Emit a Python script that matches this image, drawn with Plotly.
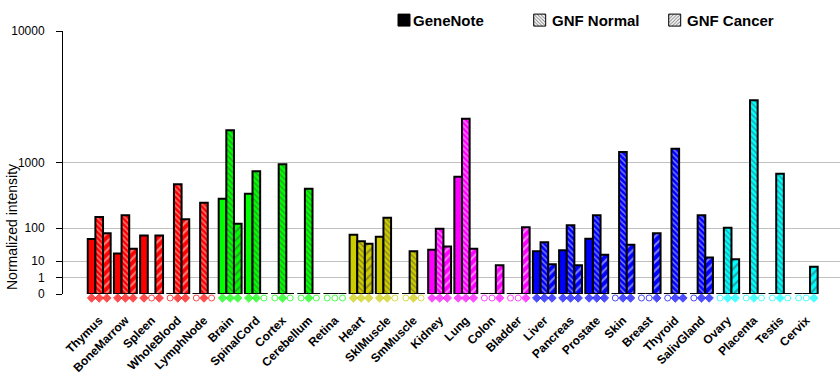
import numpy as np
import plotly.graph_objects as go

tissues = ["Thymus", "BoneMarrow", "Spleen", "WholeBlood", "LymphNode", "Brain", "SpinalCord",
           "Cortex", "Cerebellum", "Retina", "Heart", "SklMuscle", "SmMuscle", "Kidney", "Lung",
           "Colon", "Bladder", "Liver", "Pancreas", "Prostate", "Skin", "Breast", "Thyroid",
           "SalivGland", "Ovary", "Placenta", "Testis", "Cervix"]
tissue_colors = (["#FF0000"] * 5 + ["#00FF00"] * 5 + ["#CCCC00"] * 3 + ["#FF00FF"] * 4 +
                 ["#0000FF"] * 7 + ["#00FFFF"] * 4)

genenote = [55, 20, 68, 0, 0, 343, 406, 0, 0, 0, 71, 63, 0, 27, 683, 0, 0, 24, 26, 56,
            0, 0, 0, 0, 0, 0, 0, 0]
gnf_normal = [169, 182, 0, 548, 297, 2068, 794, 954, 477, 0, 48, 164, 24, 98, 2596, 0, 0, 45,
              116, 182, 1290, 0, 1393, 182, 103, 3620, 743, 0]
gnf_cancer = [77, 29, 68, 153, 0, 125, 0, 0, 0, 0, 41, 0, 0, 34, 29, 6.4, 105, 7.1, 6.4, 18,
              38, 77, 0, 14, 12, 0, 0, 5.4]

genenote_present = [1, 1, 1, 0, 0, 1, 1, 0, 0, 0, 1, 1, 0, 1, 1, 0, 0, 1, 1, 1, 0, 0, 0, 0, 0, 0, 0, 0]
normal_present = [1, 1, 0, 1, 1, 1, 1, 1, 1, 0, 1, 1, 1, 1, 1, 0, 0, 1, 1, 1, 1, 0, 1, 1, 1, 1, 1, 0]
cancer_present = [1, 1, 1, 1, 0, 1, 0, 0, 0, 0, 1, 0, 0, 1, 1, 1, 1, 1, 1, 1, 1, 1, 1, 1, 1, 0, 0, 1]

y_tick_values = [0, 1, 10, 100, 1000, 10000]
y_tick_labels = ["0", "1", "10", "100", "1000", "10000"]
series_names = ["GeneNote", "GNF Normal", "GNF Cancer"]

# Axis is a power scale: every decade takes the same factor (x ** log10(2))
P = np.log10(2)
def tf(v):
    return np.power(np.asarray(v, dtype=float), P)

idx = np.arange(len(tissues))
BW = 0.875 / 3
offsets = [-1.5 * BW, -0.5 * BW, 0.5 * BW]
patterns = [None,
            dict(shape="\\", fgcolor="white", size=4, solidity=0.35, fillmode="overlay"),
            dict(shape="/", fgcolor="white", size=6, solidity=0.35, fillmode="overlay")]

FONT = "Liberation Sans, Arial, sans-serif"
fig = go.Figure()

for vals, off, pat in zip([genenote, gnf_normal, gnf_cancer], offsets, patterns):
    marker = dict(color=tissue_colors, line=dict(color="black", width=2))
    if pat:
        marker["pattern"] = pat
    fig.add_trace(go.Bar(x=idx, y=tf(vals), width=BW, offset=off, marker=marker,
                         showlegend=False, hoverinfo="skip"))

# present / absent call markers in a thin strip under the bars
for pres, off in zip([genenote_present, normal_present, cancer_present], offsets):
    fig.add_trace(go.Scatter(
        x=idx + off + BW / 2, y=[0] * len(idx), mode="markers", xaxis="x2", yaxis="y2",
        showlegend=False, hoverinfo="skip", cliponaxis=False,
        marker=dict(symbol=["diamond" if p else "circle-open" for p in pres],
                    size=[6.5 if p else 6 for p in pres], color=tissue_colors,
                    line=dict(color=tissue_colors, width=1))))

# legend icons (one legend per series so they sit exactly where the reference has them)
legend_icon_styles = [
    dict(color="black", line=dict(color="black", width=1)),
    dict(color="white", line=dict(color="black", width=1),
         pattern=dict(shape="\\", fgcolor="black", size=3, solidity=0.4)),
    dict(color="white", line=dict(color="black", width=1),
         pattern=dict(shape="/", fgcolor="black", size=3, solidity=0.4)),
]
legend_names = ["legend", "legend2", "legend3"]
for name, st, lg in zip(series_names, legend_icon_styles, legend_names):
    fig.add_trace(go.Bar(x=[None], y=[None], name=" ", marker=st, legend=lg, showlegend=True))

W, H = 840, 385
ML, MR, MT, MB = 63, 0, 31, 83
ZERO_PX = 294
pw, ph = W - ML - MR, H - MT - MB
def px(xp):
    return (xp - ML) / pw
def py(yp):
    return (H - MB - yp) / ph
d0 = py(ZERO_PX)

icon_x = [404, 539.7, 674.7]
text_x = [411, 550, 685]
leg_cfg = {}
for lg, ix in zip(legend_names, icon_x):
    leg_cfg[lg] = dict(x=px(ix - 20), y=py(20.5), xanchor="left", yanchor="middle",
                       orientation="h", bgcolor="rgba(0,0,0,0)", borderwidth=0,
                       font=dict(family=FONT, size=14, color="black"))

annotations = []
for name, tx in zip(series_names, text_x):
    annotations.append(dict(text="<b>" + name + "</b>", x=px(tx), y=py(20.5), xref="paper",
                            yref="paper", xanchor="left", yanchor="middle", showarrow=False,
                            font=dict(family=FONT, size=15, color="black")))
annotations.append(dict(text="Normalized intensity", x=px(12), y=py(227), xref="paper",
                        yref="paper", textangle=-90, showarrow=False, xanchor="center",
                        yanchor="middle", font=dict(family=FONT, size=14, color="black")))

XR = [-1.383, 28.29]
fig.update_layout(
    width=W, height=H, margin=dict(l=ML, r=MR, t=MT, b=MB, autoexpand=False),
    plot_bgcolor="white", paper_bgcolor="white", barmode="overlay",
    font=dict(family=FONT, color="black"),
    annotations=annotations,
    **leg_cfg,
    xaxis=dict(range=XR, anchor="y", showticklabels=False, showgrid=False, zeroline=False,
               showline=False, ticks=""),
    yaxis=dict(domain=[d0, 1], range=[0, 16], tickvals=tf(y_tick_values), ticktext=y_tick_labels,
               showgrid=True, gridcolor="#C0C0C0", gridwidth=1, zeroline=False,
               showline=True, linecolor="black", linewidth=1, ticks="outside",
               ticklen=6, tickcolor="black", ticklabelstandoff=9,
               tickfont=dict(family=FONT, size=12, color="black")),
    xaxis2=dict(range=XR, matches="x", anchor="y2", tickvals=idx, ticktext=tissues,
                tickangle=-45, showgrid=False, zeroline=False, showline=False, ticks="",
                ticklabelstandoff=8,
                tickfont=dict(family=FONT, size=12, color="black", weight="bold")),
    yaxis2=dict(domain=[0, d0], range=[-1, 1], visible=False),
)

fig.write_html("out.html", config={"displayModeBar": False},
               post_script="document.body.style.margin='0';")
